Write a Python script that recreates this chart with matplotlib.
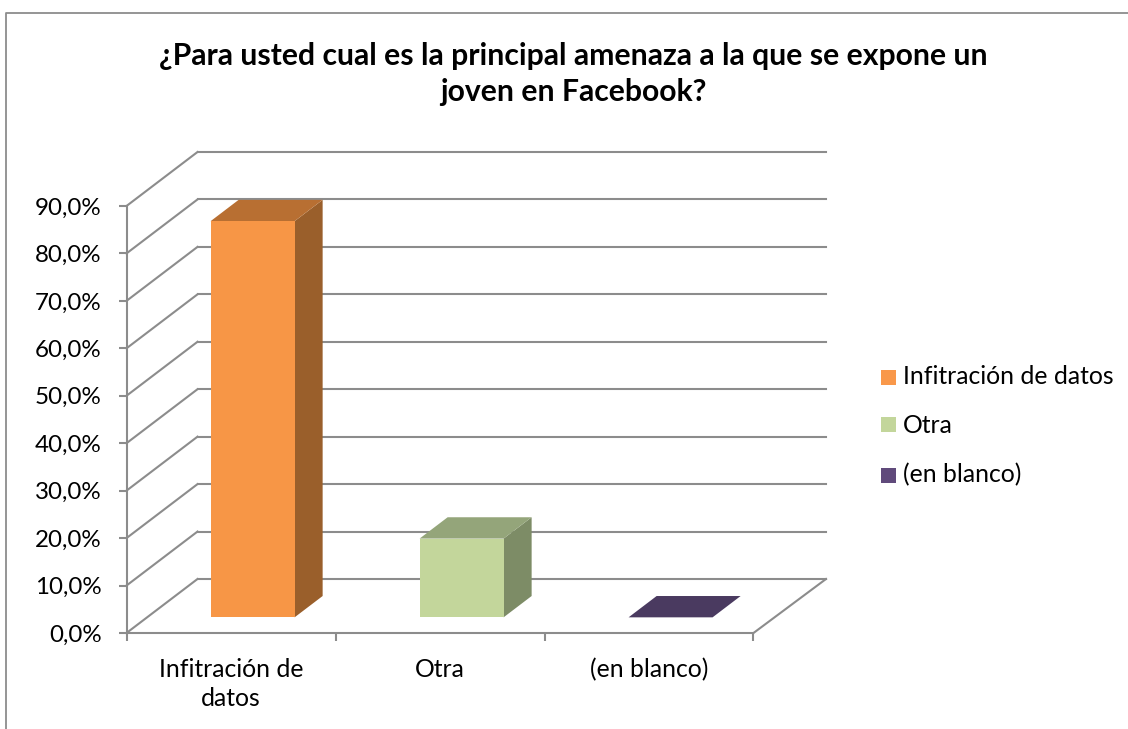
import matplotlib
matplotlib.use('Agg')
import matplotlib.pyplot as plt
from matplotlib.patches import Polygon, Rectangle
from matplotlib.ticker import FixedLocator, FuncFormatter

plt.rcParams['font.family'] = ['Lato', 'DejaVu Sans']

###############################################################################
# DATA
###############################################################################
title = '¿Para usted cual es la principal amenaza a la que se expone un\njoven en Facebook?'
categories = ['Infitración de\ndatos', 'Otra', '(en blanco)']
legend_labels = ['Infitración de datos', 'Otra', '(en blanco)']
values = [83.5, 16.6, 0.0]
y_ticks = [0, 10, 20, 30, 40, 50, 60, 70, 80, 90]

front_colors = ['#F79646', '#C3D69B', '#4A3A60']
top_colors = ['#B86F32', '#94A57A', '#4A3A60']
side_colors = ['#9A5F2B', '#7D8C66', '#4A3A60']
legend_colors = ['#F9984A', '#C3D69B', '#604A7B']
GRID = '#8C8C8C'

W, H = 1128, 729
# pixel layout of the plot box
LEFT, RIGHT, BOTTOM, TOP = 126.5, 826, 633, 152
CAT_W = (753.5 - 126.5) / 3
PCT_H = (633 - 206) / 90
# depth of the 3D box, in data units
DX = 71 / CAT_W
DY = 54 / PCT_H
# bar geometry
BAR_W = 84 / CAT_W
BAR_FRONT = 0.29
BAR_BACK = 0.685

fig = plt.figure(figsize=(W / 100, H / 100), dpi=100, facecolor='white')
ax = fig.add_axes([LEFT / W, 1 - BOTTOM / H, (RIGHT - LEFT) / W, (BOTTOM - TOP) / H])
x_end = (RIGHT - LEFT) / CAT_W
ax.set_xlim(0, x_end)
ax.set_ylim(0, (BOTTOM - TOP) / PCT_H)
ax.patch.set_alpha(0)

for s in ['top', 'right']:
    ax.spines[s].set_visible(False)
for s in ['left', 'bottom']:
    ax.spines[s].set_color(GRID)
    ax.spines[s].set_linewidth(1.5)
ax.spines['left'].set_bounds(0, 90)
ax.spines['bottom'].set_bounds(0, 3)

# walls and floor
for v in y_ticks:
    ax.plot([DX, x_end], [v + DY, v + DY], color=GRID, lw=1.5, clip_on=False, zorder=1)
    ax.plot([0, DX], [v, v + DY], color=GRID, lw=1.5, clip_on=False, zorder=1)
ax.plot([3, x_end], [0, DY], color=GRID, lw=1.5, clip_on=False, zorder=1)

# bars
for i, v in enumerate(values):
    center = i + 0.5 + 1 / CAT_W
    x0 = center - BAR_W / 2 + BAR_FRONT * DX
    x1 = x0 + BAR_W
    y0 = BAR_FRONT * DY
    off_x = (BAR_BACK - BAR_FRONT) * DX
    off_y = (BAR_BACK - BAR_FRONT) * DY
    ax.add_patch(Polygon([(x1, y0), (x1 + off_x, y0 + off_y), (x1 + off_x, y0 + off_y + v), (x1, y0 + v)],
                         facecolor=side_colors[i], edgecolor='none', zorder=3))
    ax.add_patch(Polygon([(x0, y0 + v), (x1, y0 + v), (x1 + off_x, y0 + off_y + v), (x0 + off_x, y0 + off_y + v)],
                         facecolor=top_colors[i], edgecolor='none', zorder=3))
    if v > 0:
        ax.add_patch(Rectangle((x0, y0), BAR_W, v, facecolor=front_colors[i], edgecolor='none', zorder=4))

# axes ticks
ax.yaxis.set_major_locator(FixedLocator(y_ticks))
ax.yaxis.set_major_formatter(FuncFormatter(lambda v, p: f'{v:.1f}%'.replace('.', ',')))
ax.set_xticks([0, 1, 2, 3])
ax.set_xticklabels([])
ax.tick_params(axis='y', length=6, width=1.5, color=GRID, labelsize=17.4, labelcolor='black', pad=12)
ax.tick_params(axis='x', length=6, width=1.5, color=GRID)
for i, c in enumerate(categories):
    ax.annotate(c, xy=(i + 0.5, 0), xycoords=('data', 'axes fraction'), xytext=(0, -18),
                textcoords='offset points', ha='center', va='top', fontsize=17.8,
                color='black', linespacing=1.31, annotation_clip=False)

# legend
for lab, col, y in zip(legend_labels, legend_colors, [377, 425, 475]):
    fig.patches.append(Rectangle((881 / W, 1 - (y + 7.5) / H), 15 / W, 15 / H, transform=fig.transFigure,
                                 facecolor=col, edgecolor='none'))
    fig.text(903 / W, 1 - y / H, lab, fontsize=17.8, va='center', ha='left', color='black')

# title and chart frame, the right and bottom edges are cut off in the original
fig.text(573 / W, 1 - 74 / H, title, fontsize=21.7, fontweight='bold', ha='center', va='center',
         color='black', linespacing=1.38)
fig.add_artist(plt.Line2D([6 / W, 6 / W, 1], [0, 1 - 13 / H, 1 - 13 / H], color=GRID, lw=1.3))

fig.savefig('out.png', dpi=100)
